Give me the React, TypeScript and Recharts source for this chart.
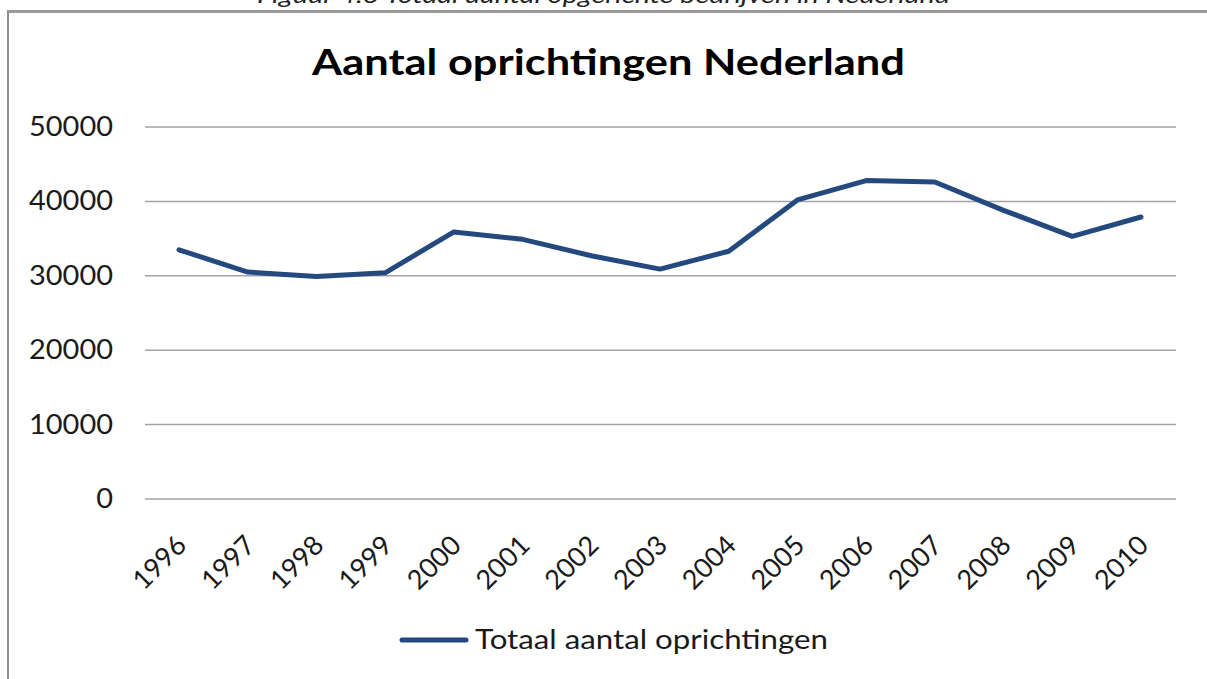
import React from 'react';
import { LineChart, Line, XAxis, YAxis, CartesianGrid, Legend } from 'recharts';

const years = ['1996', '1997', '1998', '1999', '2000', '2001', '2002', '2003', '2004', '2005', '2006', '2007', '2008', '2009', '2010'];
const oprichtingen = [33500, 30500, 29900, 30400, 35900, 34900, 32700, 30900, 33300, 40200, 42800, 42600, 38800, 35300, 37900];
const yTicks = [0, 10000, 20000, 30000, 40000, 50000];
const seriesName = 'Totaal aantal oprichtingen';
const chartTitle = 'Aantal oprichtingen Nederland';
const caption = 'Figuur  4.3 Totaal aantal opgerichte bedrijven in Nederland';

const data = years.map((y, i) => ({ year: y, value: oprichtingen[i] }));

const FONT = 'Lato, "Open Sans", sans-serif';
const LINE_COLOR = '#24497e';

const YTick = (props: any) => {
  const { x, y, payload } = props;
  const s = String(payload.value);
  return (
    <text x={x} y={y} dy={9} textAnchor="end" fontSize={27} fontFamily={FONT} fill="#1a1a1a" textLength={s.length * 16.8} lengthAdjust="spacingAndGlyphs">
      {s}
    </text>
  );
};

const XTick = (props: any) => {
  const { x, y, payload } = props;
  const ax = x + 9;
  const ay = y + 46;
  return (
    <text x={ax} y={ay} textAnchor="end" fontSize={27} fontFamily={FONT} fill="#1a1a1a" transform={`rotate(-45 ${ax} ${ay})`}>
      {payload.value}
    </text>
  );
};

const LegendContent = () => (
  <svg width={1207} height={50} style={{ display: 'block' }}>
    <line x1={402} y1={31} x2={466} y2={31} stroke={LINE_COLOR} strokeWidth={5} strokeLinecap="round" />
    <text x={475} y={40} fontSize={27} fontFamily={FONT} fill="#1a1a1a" textLength={353} lengthAdjust="spacingAndGlyphs">
      {seriesName}
    </text>
  </svg>
);

export default function App() {
  return (
    <div style={{ position: 'absolute', left: 0, top: 0, width: 1207, height: 679, overflow: 'hidden', background: '#fff' }}>
      <div style={{ position: 'absolute', left: 7, top: 10, width: 1300, height: 800, borderLeft: '2px solid #8e8e8e', borderTop: '3px solid #9a9a9a', boxSizing: 'border-box' }} />
      <div style={{ position: 'absolute', left: 0, top: 0 }}>
        <LineChart width={1207} height={679} data={data} margin={{ top: 127, right: 31, left: 0, bottom: 20 }}>
          <CartesianGrid horizontal vertical={false} stroke="#a3a3a3" strokeWidth={1.5} />
          <XAxis
            dataKey="year"
            height={110}
            padding={{ left: 34, right: 35 }}
            axisLine={false}
            tickLine={false}
            tickSize={0}
            interval={0}
            tick={<XTick />}
          />
          <YAxis
            width={145}
            domain={[0, 50000]}
            ticks={yTicks}
            axisLine={false}
            tickLine={false}
            tickSize={0}
            tickMargin={32}
            tick={<YTick />}
          />
          <Legend
            verticalAlign="bottom"
            height={50}
            content={<LegendContent />}
            wrapperStyle={{ left: 0, width: 1207, height: 50 }}
          />
          <Line
            type="linear"
            dataKey="value"
            name={seriesName}
            stroke={LINE_COLOR}
            strokeWidth={5}
            dot={false}
            activeDot={false}
            strokeLinejoin="round"
            strokeLinecap="round"
            isAnimationActive={false}
          />
        </LineChart>
      </div>
      <svg width={1207} height={100} style={{ position: 'absolute', left: 0, top: 0, pointerEvents: 'none' }}>
        <text x={257} y={3} fontSize={22} fontStyle="italic" fontFamily={FONT} fill="#222" textLength={693} lengthAdjust="spacingAndGlyphs">
          {caption}
        </text>
        <text x={312} y={75} fontSize={36} fontWeight="bold" fontFamily={FONT} fill="#000" textLength={593} lengthAdjust="spacingAndGlyphs">
          {chartTitle}
        </text>
      </svg>
    </div>
  );
}
